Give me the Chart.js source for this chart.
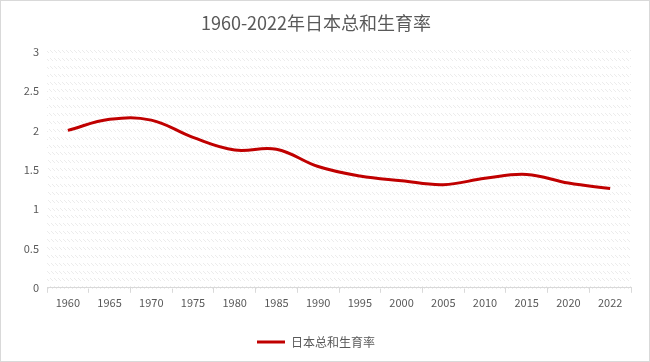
<!DOCTYPE html>
<html><head><meta charset="utf-8">
<script src="https://cdn.jsdelivr.net/npm/chart.js@4/dist/chart.umd.min.js"></script>
<style>
html,body{margin:0;padding:0;background:#fff;}
#wrap{position:absolute;left:0;top:0;width:648px;height:360px;border:1px solid #d9d9d9;}
</style></head>
<body><div id="wrap"><canvas id="c" width="648" height="360"></canvas></div>
<script>
const years = ['1960','1965','1970','1975','1980','1985','1990','1995','2000','2005','2010','2015','2020','2022'];
const fertility = [2.00,2.14,2.13,1.91,1.75,1.76,1.54,1.42,1.36,1.31,1.39,1.44,1.33,1.26];
const seriesName = '日本总和生育率';
const titleText = '1960-2022年日本总和生育率';

const pc = document.createElement('canvas');
pc.width = 4; pc.height = 4;
const p = pc.getContext('2d');
p.fillStyle = '#ececec';
for (let i = 0; i < 4; i++) { p.fillRect(i, i, 1, 1); }
const hatch = document.getElementById('c').getContext('2d').createPattern(pc, 'repeat');

const font = "'Noto Sans CJK SC', 'Noto Sans', sans-serif";
new Chart(document.getElementById('c'), {
  type: 'line',
  data: { labels: years, datasets: [{
    label: seriesName, data: fertility, borderColor: '#C00000', backgroundColor: '#C00000',
    borderWidth: 3, pointRadius: 0, tension: 0.4, fill: false
  }]},
  options: {
    responsive: false, animation: false,
    layout: { padding: { left: 0, right: 18, top: 11, bottom: 3 } },
    plugins: {
      title: { display: true, text: titleText, color: '#595959',
        font: { family: font, size: 18, weight: 'normal' }, padding: { top: 0, bottom: 18 } },
      legend: { position: 'bottom', labels: { color: '#595959', font: { family: font, size: 12 },
        boxWidth: 28, boxHeight: 3, padding: 12,
        generateLabels: (ch) => [{ text: seriesName, fillStyle: '#C00000', strokeStyle: '#C00000', lineWidth: 0, fontColor: '#595959' }] } },
      tooltip: { enabled: false }
    },
    scales: {
      x: { offset: true,
        afterFit: (s) => { s.height += 12; },
        grid: { offset: true, drawOnChartArea: false, drawTicks: true, tickLength: 5, color: '#d9d9d9' },
        border: { color: '#d9d9d9' },
        ticks: { color: '#595959', font: { family: font, size: 11 }, padding: 3, maxRotation: 0, autoSkip: false } },
      y: { min: 0, max: 3,
        afterFit: (s) => { s.width = 46; },
        grid: { color: hatch, lineWidth: 3, drawTicks: false },
        border: { display: false },
        ticks: { stepSize: 0.1, maxTicksLimit: 100, autoSkip: false, color: '#595959', padding: 8,
          font: { family: font, size: 11 },
          callback: (v) => Math.abs(v * 2 - Math.round(v * 2)) < 1e-6 ? String(Math.round(v * 10) / 10) : '' } }
    }
  }
});
</script></body></html>
